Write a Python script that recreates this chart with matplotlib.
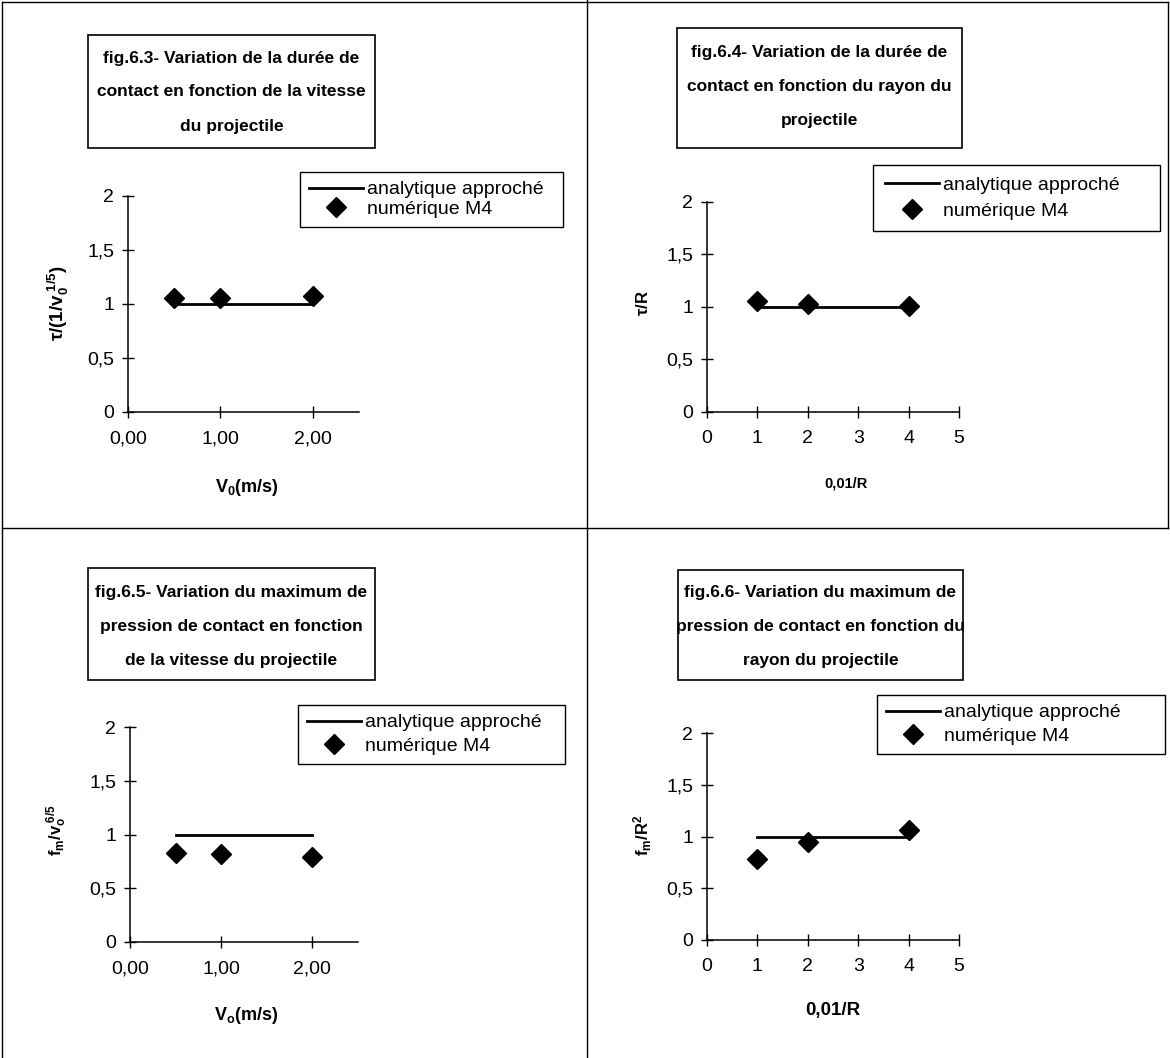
import matplotlib.pyplot as plt
from matplotlib.lines import Line2D
from matplotlib.patches import Rectangle

plt.rcParams["font.family"] = ["Liberation Sans", "DejaVu Sans"]
plt.rcParams["mathtext.fontset"] = "custom"
plt.rcParams["mathtext.rm"] = "Liberation Sans"
plt.rcParams["mathtext.bf"] = "Liberation Sans:bold"
plt.rcParams["mathtext.it"] = "Liberation Sans:italic"

# data
speed_v0 = [0.5, 1.0, 2.0]
radius_x = [1, 2, 4]
analytic = [1.0, 1.0, 1.0]
tau_speed_num = [1.06, 1.06, 1.07]
tau_radius_num = [1.06, 1.03, 1.01]
fm_speed_num = [0.83, 0.82, 0.79]
fm_radius_num = [0.78, 0.95, 1.06]

speed_ticks = [0, 1, 2]
speed_ticklabels = ["0,00", "1,00", "2,00"]
radius_ticks = [0, 1, 2, 3, 4, 5]
radius_ticklabels = ["0", "1", "2", "3", "4", "5"]
y_ticks = [0, 0.5, 1, 1.5, 2]
y_ticklabels = ["0", "0,5", "1", "1,5", "2"]

legend_labels = ["analytique approché", "numérique M4"]

titles = [
    "fig.6.3- Variation de la durée de\ncontact en fonction de la vitesse\ndu projectile",
    "fig.6.4- Variation de la durée de\ncontact en fonction du rayon du\nprojectile",
    "fig.6.5- Variation du maximum de\npression de contact en fonction\nde la vitesse du projectile",
    "fig.6.6- Variation du maximum de\npression de contact en fonction du\nrayon du projectile",
]

W, H = 1170, 1058


def fx(x):
    return x / W


def fy(y):
    return 1 - y / H


def title_box(fig, box, text, first_y, step=34):
    x0, y0, x1, y1 = box
    fig.add_artist(Rectangle((fx(x0), fy(y1)), (x1 - x0) / W, (y1 - y0) / H,
                             transform=fig.transFigure, fill=False, ec="black", lw=1.2))
    cx = (x0 + x1) / 2
    for i, line in enumerate(text.split("\n")):
        fig.text(fx(cx), fy(first_y + i * step), line, ha="center", va="center",
                 fontsize=12.5, fontweight="bold")


def panel(fig, rect, x, y_num, xlim, xticks, xticklabels, xlabel, xlabel_pos,
          xlabel_size, ylabel, ylabel_pos, ylabel_size, leg_box, leg_pad, leg_spacing):
    left, top, right, bottom = rect
    ax = fig.add_axes([fx(left), fy(bottom), (right - left) / W, (bottom - top) / H])
    (line,) = ax.plot(x, analytic, color="black", lw=2)
    (pts,) = ax.plot(x, y_num, ls="none", marker="D", color="black", markersize=10)
    ax.set_xlim(*xlim)
    ax.set_ylim(0, 2)
    ax.set_xticks(xticks)
    ax.set_xticklabels(xticklabels)
    ax.set_yticks(y_ticks)
    ax.set_yticklabels(y_ticklabels)
    for s in ["top", "right"]:
        ax.spines[s].set_visible(False)
    for s in ["left", "bottom"]:
        ax.spines[s].set_linewidth(1.1)
    ax.tick_params(direction="inout", length=8, width=1, labelsize=14)
    ax.tick_params(axis="x", pad=9)
    ax.tick_params(axis="y", pad=6)
    fig.text(fx(xlabel_pos[0]), fy(xlabel_pos[1]), xlabel, ha="center", va="center",
             fontsize=xlabel_size, fontweight="bold")
    fig.text(fx(ylabel_pos[0]), fy(ylabel_pos[1]), ylabel, ha="center", va="center",
             fontsize=ylabel_size, fontweight="bold", rotation=90)
    lx0, ly0, lx1, ly1 = leg_box
    leg = ax.legend([line, pts], legend_labels, loc="upper left",
                    bbox_to_anchor=(fx(lx0), fy(ly1), (lx1 - lx0) / W, (ly1 - ly0) / H),
                    bbox_transform=fig.transFigure, mode="expand", borderaxespad=0,
                    fancybox=False, edgecolor="black", framealpha=1, fontsize=14,
                    handlelength=2.8, handletextpad=0.2, borderpad=leg_pad,
                    labelspacing=leg_spacing, numpoints=1)
    leg.get_frame().set_linewidth(1.0)
    return ax


fig = plt.figure(figsize=(11.7, 10.58), dpi=100)

# panel frame
for xs, ys in [((2, 1168), (2, 2)), ((2, 2), (2, 1058)), ((1168, 1168), (2, 528)),
               ((587, 587), (0, 1058)), ((2, 1168), (528, 528))]:
    fig.add_artist(Line2D([fx(v) for v in xs], [fy(v) for v in ys],
                          transform=fig.transFigure, color="black", lw=1))

title_box(fig, (88, 35, 375, 148), titles[0], 58)
title_box(fig, (677, 28, 962, 148), titles[1], 53)
title_box(fig, (88, 568, 375, 680), titles[2], 592)
title_box(fig, (678, 570, 963, 680), titles[3], 592)

panel(fig, (128, 196, 359, 412), speed_v0, tau_speed_num, (0, 2.5), speed_ticks,
      speed_ticklabels, r"V$_\mathbf{0}$(m/s)", (247, 487), 13,
      r"$\mathbf{\tau/(1/v_0^{\ 1/5})}$", (58, 303), 13.5,
      (300, 172, 563, 227), 0.45, 0.1)
panel(fig, (707, 202, 959, 412), radius_x, tau_radius_num, (0, 5), radius_ticks,
      radius_ticklabels, "0,01/R", (846, 483), 10.5,
      r"$\mathbf{\tau/R}$", (643, 303), 12,
      (873, 165, 1160, 237), 0.6, 0.4)
panel(fig, (130, 727, 358, 942), speed_v0, fm_speed_num, (0, 2.5), speed_ticks,
      speed_ticklabels, r"V$_\mathbf{o}$(m/s)", (246, 1015), 13,
      r"$\mathbf{f_m/v_o^{\ 6/5}}$", (57, 830), 12,
      (298, 705, 565, 762), 0.45, 0.3)
panel(fig, (707, 733, 959, 940), radius_x, fm_radius_num, (0, 5), radius_ticks,
      radius_ticklabels, "0,01/R", (833, 1010), 13.5,
      r"$\mathbf{f_m/R^2}$", (643, 835), 12,
      (877, 695, 1165, 755), 0.45, 0.3)

fig.savefig("out.png", dpi=100)
